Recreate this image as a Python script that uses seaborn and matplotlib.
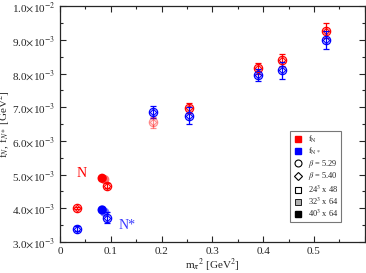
import matplotlib
matplotlib.use("Agg")
import numpy as np
import pandas as pd
import matplotlib.pyplot as plt
from matplotlib.lines import Line2D
from matplotlib.ticker import MultipleLocator, FuncFormatter
import seaborn as sns

# ---- data ----
mpi2_open = [0.033, 0.093, 0.183, 0.254, 0.389, 0.437, 0.523]
fN_open = [4.01e-3, 4.67e-3, 6.55e-3, 6.97e-3, 8.15e-3, 8.40e-3, 9.27e-3]
fN_err = [0.04e-3, 0.08e-3, 0.16e-3, 0.14e-3, 0.15e-3, 0.17e-3, 0.22e-3]
fNs_open = [3.40e-3, 3.72e-3, 6.86e-3, 6.75e-3, 7.96e-3, 8.10e-3, 9.00e-3]
fNs_err = [0.07e-3, 0.17e-3, 0.17e-3, 0.25e-3, 0.18e-3, 0.25e-3, 0.27e-3]
fN_pale = [False, False, True, False, False, False, False]

# filled points: 40^3 x 64 (solid) and 32^3 x 64 (grey fill)
mpi2_filled = [0.083, 0.088]
fN_filled = [4.89e-3, 4.85e-3]
fNs_filled = [3.95e-3, 3.88e-3]
volume_filled = ["40", "32"]

sns.set_style("ticks")
plt.rcParams["font.family"] = ["Liberation Serif", "DejaVu Serif"]
plt.rcParams["mathtext.fontset"] = "stix"

fig = plt.figure(figsize=(3.66, 2.73), dpi=100)
ax = fig.add_axes([0.164, 0.1136, 0.8325, 0.864])

RED = "#ff0000"
BLUE = "#0000ff"


def draw_open(xs, ys, es, col, alpha):
    ax.errorbar(xs, ys, yerr=es, fmt="o", ms=6, mfc="none", mec=col,
                mew=0.9, ecolor=col, elinewidth=0.9, capsize=2.5, capthick=0.9,
                alpha=alpha, zorder=3)
    ax.plot(xs, ys, "D", ms=3.3, mfc="none", mec=col, mew=0.8, alpha=alpha,
            zorder=3)


# open points with error bars
sel = np.array(fN_pale)
xo = np.array(mpi2_open)
draw_open(xo[~sel], np.array(fN_open)[~sel], np.array(fN_err)[~sel], RED, 1.0)
draw_open(xo[sel], np.array(fN_open)[sel], np.array(fN_err)[sel], RED, 0.45)
draw_open(mpi2_open, fNs_open, fNs_err, BLUE, 1.0)

# filled points (seaborn)
df = pd.DataFrame({
    "mpi2": mpi2_filled * 2,
    "f": fN_filled + fNs_filled,
    "obs": ["N"] * 2 + ["N*"] * 2,
    "vol": volume_filled * 2,
})
for vol, a in [("32", 0.55), ("40", 1.0)]:
    sub = df[df["vol"] == vol]
    sns.scatterplot(data=sub, x="mpi2", y="f", hue="obs",
                    palette={"N": RED, "N*": BLUE}, s=45, alpha=a,
                    edgecolor="none", legend=False, ax=ax, zorder=4)

ax.text(0.043, 5.04e-3, "N", color=RED, fontsize=10, ha="center", va="center")
ax.text(0.132, 3.48e-3, "N*", color="#3a3aff", fontsize=10, ha="center", va="center")

ax.set_xlim(0, 0.6)
ax.set_ylim(3.0e-3, 1.0e-2)
ax.xaxis.set_major_locator(MultipleLocator(0.1))
ax.xaxis.set_minor_locator(MultipleLocator(0.05))
ax.yaxis.set_major_locator(MultipleLocator(1e-3))
ax.yaxis.set_minor_locator(MultipleLocator(0.5e-3))


def yfmt(v, pos):
    e = int(np.floor(np.log10(v) + 1e-9))
    m = v / 10 ** e
    return r"%.1f$\times$10$^{%d}$" % (m, e)


def xfmt(v, pos):
    if abs(v) < 1e-9:
        return "0"
    if v > 0.55:
        return ""
    return "%.1f" % v


ax.yaxis.set_major_formatter(FuncFormatter(yfmt))
ax.xaxis.set_major_formatter(FuncFormatter(xfmt))
ax.tick_params(which="both", direction="in", top=True, right=True, labelsize=8,
               width=0.8)
ax.tick_params(which="major", length=4)
ax.tick_params(which="minor", length=2)
for s in ax.spines.values():
    s.set_linewidth(0.9)

ax.set_xlabel(r"m$_\pi$$^2$ [GeV$^2$]", fontsize=8)
ax.set_ylabel(r"f$_{N}$, f$_{N*}$ [GeV$^2$]", fontsize=8)
ax.xaxis.set_label_coords(0.5, -0.065)
ax.yaxis.set_label_coords(-0.155, 0.5)

handles = [
    Line2D([], [], ls="none", marker="s", ms=4.5, mfc=RED, mec=RED),
    Line2D([], [], ls="none", marker="s", ms=4.5, mfc=BLUE, mec=BLUE),
    Line2D([], [], ls="none", marker="o", ms=5, mfc="none", mec="k", mew=0.8),
    Line2D([], [], ls="none", marker="D", ms=3.8, mfc="none", mec="k", mew=0.8),
    Line2D([], [], ls="none", marker="s", ms=4.5, mfc="none", mec="k", mew=0.8),
    Line2D([], [], ls="none", marker="s", ms=4.5, mfc="#b0b0b0", mec="k", mew=0.6),
    Line2D([], [], ls="none", marker="s", ms=4.5, mfc="k", mec="k"),
]
labels = [r"f$_\mathrm{N}$", r"f$_\mathrm{N*}$", r"$\beta$ = 5.29", r"$\beta$ = 5.40",
          r"24$^3$ x 48", r"32$^3$ x 64", r"40$^3$ x 64"]
leg = ax.legend(handles, labels, loc="upper left", bbox_to_anchor=(0.754, 0.472),
                fontsize=6, frameon=True, fancybox=False, handlelength=1.2,
                handletextpad=0.6, labelspacing=0.1, borderpad=0.35,
                borderaxespad=0)
leg.get_frame().set_edgecolor("#555555")
leg.get_frame().set_linewidth(0.8)

fig.savefig("out.png", dpi=100)
